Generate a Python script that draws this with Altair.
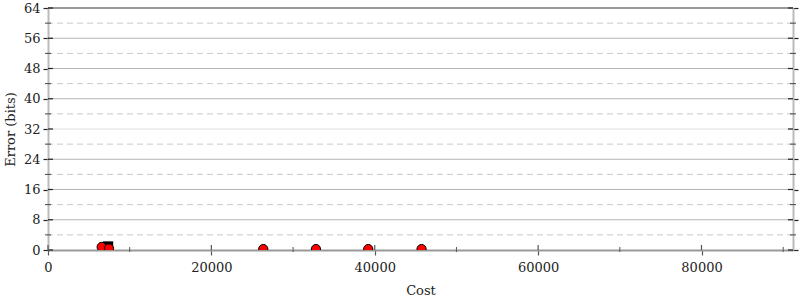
import altair as alt
import pandas as pd

# data
pt_cost = [6570, 7465, 26350, 32800, 39200, 45730]
pt_error = [0.8, 0.4, 0.25, 0.25, 0.25, 0.25]
sq_cost = [7340]
sq_error = [0.9]

y_major = [0, 8, 16, 24, 32, 40, 48, 56, 64]
y_minor = [4, 12, 20, 28, 36, 44, 52, 60]
x_major = [0, 20000, 40000, 60000, 80000]
x_minor = [10000, 30000, 50000, 70000, 90000]
x_max = 91200

W, H = 745, 242
FONT = "DejaVu Serif"

xs = alt.Scale(domain=[0, x_max], nice=False, zero=True)
ys = alt.Scale(domain=[0, 64], nice=False)

pts = pd.DataFrame({"cost": pt_cost, "err": pt_error})
sq = pd.DataFrame({"cost": sq_cost, "err": sq_error})
ymaj = pd.DataFrame({"v": y_major})
ymin = pd.DataFrame({"v": y_minor})
xmaj = pd.DataFrame({"v": x_major})
xmin = pd.DataFrame({"v": x_minor})
grid_major = pd.DataFrame({"v": y_major[1:-1]})
top = pd.DataFrame({"v": [64]})

dashed = alt.Chart(ymin).mark_rule(color="#c8c8c8", strokeDash=[6, 4], strokeWidth=1).encode(
    y=alt.Y("v:Q", scale=ys, axis=None))

solid = alt.Chart(grid_major).mark_rule(strokeWidth=1).encode(
    y=alt.Y("v:Q", scale=ys, axis=None),
    color=alt.condition("datum.v == 32", alt.value("#dddddd"), alt.value("#b4b4b4")))

topline = alt.Chart(top).mark_rule(color="#999999", strokeWidth=2).encode(
    y=alt.Y("v:Q", scale=ys, axis=None))

# inner halves of ticks (left, right, bottom)
ltick = alt.Chart(ymaj).mark_rule(color="#222222", strokeWidth=1.2).encode(
    y=alt.Y("v:Q", scale=ys, axis=None), x=alt.value(0), x2=alt.value(5))
rtick = alt.Chart(ymaj).mark_rule(color="#222222", strokeWidth=1.2).encode(
    y=alt.Y("v:Q", scale=ys, axis=None), x=alt.value(W - 5), x2=alt.value(W))
lmin = alt.Chart(ymin).mark_rule(color="#444444", strokeWidth=1).encode(
    y=alt.Y("v:Q", scale=ys, axis=None), x=alt.value(-3), x2=alt.value(3))
rmin = alt.Chart(ymin).mark_rule(color="#444444", strokeWidth=1).encode(
    y=alt.Y("v:Q", scale=ys, axis=None), x=alt.value(W - 3), x2=alt.value(W + 3))
btick = alt.Chart(xmaj).mark_rule(color="#555555", strokeWidth=1.2).encode(
    x=alt.X("v:Q", scale=xs, axis=None), y=alt.value(H - 5), y2=alt.value(H))
bmin = alt.Chart(xmin).mark_rule(color="#555555", strokeWidth=1).encode(
    x=alt.X("v:Q", scale=xs, axis=None), y=alt.value(H - 3), y2=alt.value(H + 2))

# right axis (no labels)
right_axis = alt.Chart(ymaj).mark_rule(opacity=0).encode(
    y=alt.Y("v:Q", scale=ys,
            axis=alt.Axis(orient="right", values=y_major, labels=False, title=None,
                          grid=False, tickSize=5, tickColor="#222222", tickWidth=1.2,
                          domainColor="#bbbbbb", domainWidth=2)))

square = alt.Chart(sq).mark_square(size=110, color="black", opacity=1, clip=True).encode(
    x=alt.X("cost:Q", scale=xs, axis=None),
    y=alt.Y("err:Q", scale=ys, axis=None))

circles = alt.Chart(pts).mark_circle(size=85, color="red", stroke="black", strokeWidth=1,
                                      opacity=1, clip=True).encode(
    x=alt.X("cost:Q", scale=xs,
            axis=alt.Axis(title="Cost", values=x_major, grid=False, tickSize=5,
                          tickColor="#555555", tickWidth=1.2, domainColor="#999999",
                          domainWidth=2, labelPadding=6, titlePadding=10,
                          labelFlush=False, format="d")),
    y=alt.Y("err:Q", scale=ys,
            axis=alt.Axis(title="Error (bits)", values=y_major, grid=False, tickSize=5,
                          tickColor="#222222", tickWidth=1.2, domainColor="#bbbbbb",
                          domainWidth=2, labelPadding=3, titlePadding=6,
                          labelFlush=False)))

chart = alt.layer(
    dashed, solid, topline, ltick, rtick, lmin, rmin, btick, bmin,
    right_axis, square, circles
).resolve_axis(y="independent", x="independent").properties(
    width=W, height=H,
    autosize=alt.AutoSizeParams(type="none"),
    padding={"left": 48, "top": 8, "right": 7, "bottom": 50},
).configure_view(stroke=None).configure_axis(
    labelFont=FONT, titleFont=FONT, labelFontSize=13, titleFontSize=13,
    titleFontWeight="normal", labelColor="#222222", titleColor="#222222",
)

chart.save("out.html", embed_options={"renderer": "svg", "actions": False})
